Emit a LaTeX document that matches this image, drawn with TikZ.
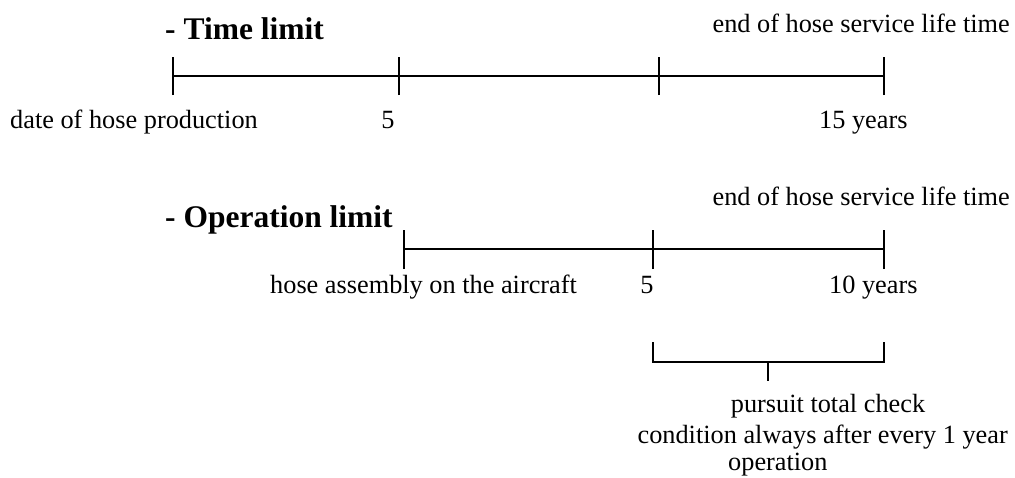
\documentclass[tikz,border=0pt]{standalone}
\usepackage{fontspec}
\setmainfont{Liberation Serif}
\begin{document}
\begin{tikzpicture}[x=1pt,y=-1pt,
  txt/.style={inner sep=0pt,font=\fontsize{26.3}{30}\selectfont},
  ttl/.style={inner sep=0pt,font=\fontsize{31.5}{36}\selectfont\bfseries},
  axis/.style={line width=1.6pt},
  tickmark/.style={line width=1.6pt}]
\useasboundingbox (0,0) rectangle (1015,477);
% top timeline
\node[ttl,anchor=base west] (t1) at (165,39) {- Time limit};
\node[txt,anchor=base east] (e1) at (1010,32) {end of hose service life time};
\coordinate (a0) at (173,76);
\coordinate (a1) at (399,76);
\coordinate (a2) at (659,76);
\coordinate (a3) at (884,76);
\draw[axis] (a0) -- (a3);
\foreach \p in {a0,a1,a2,a3}{\draw[tickmark] ([yshift=-19pt]\p) -- ([yshift=19pt]\p);}
\node[txt,anchor=base west] (l1) at (10,128) {date of hose production};
\node[txt,anchor=base] (l2) at (388,128) {5};
\node[txt,anchor=base west] (l3) at (819,128) {15 years};
% bottom timeline
\node[ttl,anchor=base west] (t2) at (165,227) {- Operation limit};
\node[txt,anchor=base east] (e2) at (1010,205) {end of hose service life time};
\coordinate (b0) at (404,249);
\coordinate (b1) at (653,249);
\coordinate (b2) at (884,249);
\draw[axis] (b0) -- (b2);
\foreach \p in {b0,b1,b2}{\draw[tickmark] ([yshift=-20pt]\p) -- ([yshift=19pt]\p);}
\node[txt,anchor=base west] (m1) at (270,293) {hose assembly on the aircraft};
\node[txt,anchor=base] (m2) at (647,293) {5};
\node[txt,anchor=base west] (m3) at (829,293) {10 years};
% bracket
\coordinate (c0) at (653,342);
\coordinate (c1) at (653,362);
\coordinate (c2) at (884,362);
\coordinate (c3) at (884,342);
\coordinate (cm) at (768,362);
\coordinate (cd) at (768,381);
\draw[axis] (c0) -- (c1) -- (c2) -- (c3);
\draw[tickmark] (cm) -- (cd);
\node[txt,anchor=base] (n1) at (828,412) {pursuit total check};
\node[txt,anchor=base east] (n2) at (1008,443) {condition always after every 1 year};
\node[txt,anchor=base west] (n3) at (728,470) {operation};
\end{tikzpicture}
\end{document}
